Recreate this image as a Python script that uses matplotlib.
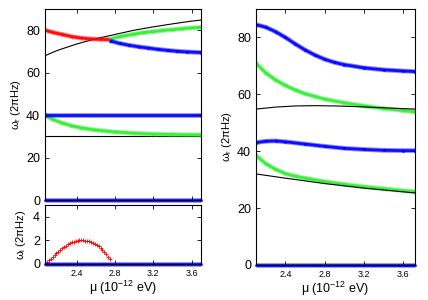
import matplotlib
matplotlib.use("Agg")
from matplotlib import pyplot as plt
import numpy as np

plt.rcParams['font.family'] = ['Liberation Sans', 'DejaVu Sans']
plt.rcParams['mathtext.fontset'] = 'custom'
plt.rcParams['mathtext.rm'] = 'Liberation Sans'
plt.rcParams['mathtext.it'] = 'Liberation Sans'

RED, GREEN, BLUE = '#ff0000', '#33ee33', '#0000ff'

# ---- left panel, real part ----
l_black_mu = [2.07, 2.2, 2.4, 2.6, 2.8, 3.0, 3.2, 3.4, 3.6, 3.7]
l_black_w = [68.0, 70.5, 73.5, 76.0, 78.0, 80.0, 81.6, 83.0, 84.3, 84.8]
l_black2_w = 30.2

l_red_mu = [2.07, 2.15, 2.25, 2.35, 2.45, 2.55, 2.65, 2.75]
l_red_w = [80.0, 79.0, 78.0, 77.0, 76.3, 75.9, 75.7, 75.6]
l_green_mu = [2.75, 2.85, 3.0, 3.1, 3.2, 3.3, 3.4, 3.5, 3.6, 3.7]
l_green_w = [75.8, 77.0, 78.2, 78.9, 79.4, 79.9, 80.3, 80.7, 81.1, 81.4]
l_blue_mu = [2.75, 2.85, 2.95, 3.05, 3.15, 3.25, 3.35, 3.45, 3.55, 3.7]
l_blue_w = [75.0, 73.8, 72.9, 72.2, 71.6, 71.0, 70.5, 70.1, 69.8, 69.5]
l_blue40_w = 40.0
l_green2_mu = [2.07, 2.15, 2.25, 2.35, 2.45, 2.6, 2.8, 3.0, 3.2, 3.4, 3.7]
l_green2_w = [40.0, 38.0, 36.3, 35.0, 34.0, 33.0, 32.1, 31.5, 31.1, 30.9, 30.7]

# ---- left panel, imaginary part ----
li_red_mu = [2.07, 2.09, 2.11, 2.13, 2.15, 2.17, 2.19, 2.21, 2.23, 2.25, 2.27, 2.29,
             2.31, 2.33, 2.35, 2.37, 2.39, 2.41, 2.43, 2.45, 2.47, 2.49, 2.51,
             2.53, 2.55, 2.57, 2.59, 2.61, 2.63, 2.65, 2.67, 2.69, 2.71, 2.73, 2.75]
li_red_w = [0.0, 0.15, 0.3, 0.45, 0.6, 0.75, 0.9, 1.05, 1.2, 1.32, 1.45, 1.56,
            1.66, 1.75, 1.82, 1.88, 1.93, 1.97, 1.99, 2.0, 2.0, 1.98, 1.96,
            1.92, 1.87, 1.8, 1.72, 1.62, 1.5, 1.36, 1.2, 1.02, 0.82, 0.6, 0.4]

# ---- right panel ----
r_blue_mu = [2.1, 2.2, 2.3, 2.4, 2.5, 2.6, 2.7, 2.8, 2.9, 3.0, 3.2, 3.4, 3.6, 3.72]
r_blue_w = [84.5, 83.6, 82.0, 80.0, 77.7, 75.6, 73.8, 72.3, 71.2, 70.4, 69.3, 68.6, 68.2, 68.0]
r_green_mu = [2.1, 2.2, 2.3, 2.4, 2.5, 2.6, 2.8, 3.0, 3.2, 3.4, 3.6, 3.72]
r_green_w = [71.0, 67.5, 65.0, 63.1, 61.5, 60.2, 58.3, 57.0, 55.9, 55.0, 54.3, 53.8]
r_black_mu = [2.1, 2.3, 2.5, 2.7, 2.9, 3.1, 3.3, 3.5, 3.72]
r_black_w = [54.8, 55.5, 55.9, 56.0, 55.9, 55.7, 55.4, 55.1, 54.8]
r_blue2_mu = [2.1, 2.2, 2.3, 2.4, 2.6, 2.8, 3.0, 3.2, 3.4, 3.6, 3.72]
r_blue2_w = [43.0, 43.5, 43.6, 43.3, 42.5, 41.7, 41.0, 40.6, 40.3, 40.2, 40.2]
r_green2_mu = [2.1, 2.2, 2.3, 2.4, 2.5, 2.6, 2.8, 3.0, 3.2, 3.4, 3.6, 3.72]
r_green2_w = [38.5, 35.6, 33.6, 32.1, 31.2, 30.5, 29.3, 28.3, 27.5, 26.8, 26.1, 25.8]
r_black2_mu = [2.1, 2.4, 2.8, 3.2, 3.72]
r_black2_w = [32.0, 30.5, 28.6, 27.0, 25.3]

xticks = [2.4, 2.8, 3.2, 3.6]
xlabel = r'μ (10$^{-12}$ eV)'

fig = plt.figure(figsize=(4.28, 3.0), dpi=100)
ax1 = fig.add_axes([0.105, 0.333, 0.365, 0.637])
ax2 = fig.add_axes([0.105, 0.12, 0.365, 0.197])
ax3 = fig.add_axes([0.598, 0.117, 0.372, 0.853])


def band(ax, x, y, color, marker, clip=True):
    ax.plot(x, y, '-', color=color, lw=3.4, alpha=0.45, solid_capstyle='butt', clip_on=clip)
    ax.plot(x, y, '-', color=color, lw=2.0, alpha=0.9, solid_capstyle='butt', clip_on=clip)
    ax.plot(x, y, marker, color=color, ms=2.5, mew=0.5, ls='none', alpha=0.6, clip_on=clip)


def zero(ax, x0, x1, color=BLUE):
    band(ax, [x0, x1], [0, 0], color, '*', clip=False)


xlim_l = (2.07, 3.70)
xlim_r = (2.10, 3.72)

ax1.plot(l_black_mu, l_black_w, color='k', lw=0.8)
ax1.axhline(l_black2_w, color='k', lw=0.8)
band(ax1, l_red_mu, l_red_w, RED, '+')
band(ax1, l_green_mu, l_green_w, GREEN, 'x')
band(ax1, l_blue_mu, l_blue_w, BLUE, '*')
band(ax1, l_green2_mu, l_green2_w, GREEN, 'x')
band(ax1, [xlim_l[0], xlim_l[1]], [l_blue40_w, l_blue40_w], BLUE, '*')
zero(ax1, *xlim_l)
ax1.set_xlim(*xlim_l)
ax1.set_ylim(0, 90)
ax1.set_yticks([0, 20, 40, 60, 80])
ax1.set_xticks(xticks)
ax1.set_xticklabels([])
ax1.set_ylabel(r'ω$_r$ (2πHz)', fontsize=8, labelpad=2)

ax2.plot(li_red_mu, li_red_w, '+', color=RED, ms=3, mew=0.6)
zero(ax2, *xlim_l)
ax2.set_xlim(*xlim_l)
ax2.set_ylim(0, 5)
ax2.set_yticks([0, 2, 4])
ax2.set_xticks(xticks)
ax2.set_ylabel(r'ω$_i$ (2πHz)', fontsize=8, labelpad=4)
ax2.set_xlabel(xlabel, fontsize=9, labelpad=1)

ax3.plot(r_black_mu, r_black_w, color='k', lw=0.8, zorder=3)
ax3.plot(r_black2_mu, r_black2_w, color='k', lw=0.8, zorder=3)
band(ax3, r_blue_mu, r_blue_w, BLUE, '*')
band(ax3, r_green_mu, r_green_w, GREEN, 'x')
band(ax3, r_blue2_mu, r_blue2_w, BLUE, '*')
band(ax3, r_green2_mu, r_green2_w, GREEN, 'x')
zero(ax3, *xlim_r)
ax3.set_xlim(*xlim_r)
ax3.set_ylim(0, 90)
ax3.set_yticks([0, 20, 40, 60, 80])
ax3.set_xticks(xticks)
ax3.set_ylabel(r'ω$_r$ (2πHz)', fontsize=8, labelpad=2)
ax3.set_xlabel(xlabel, fontsize=9, labelpad=1)

for ax in (ax1, ax2, ax3):
    ax.tick_params(direction='in', top=True, right=True, length=3, width=0.6)
    ax.tick_params(axis='y', labelsize=9)
    ax.tick_params(axis='x', labelsize=6.5)
    for s in ax.spines.values():
        s.set_linewidth(0.8)

fig.savefig('out.png', dpi=100)
